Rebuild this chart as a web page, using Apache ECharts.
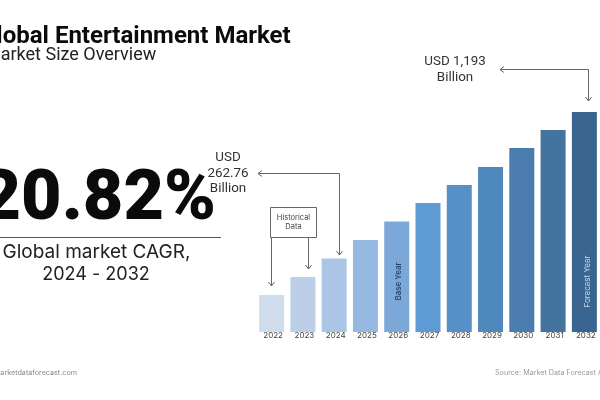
<!DOCTYPE html>
<html>
<head>
<meta charset="utf-8">
<style>html,body{margin:0;padding:0;background:#fff}#main{width:600px;height:400px}</style>
<script src="https://cdn.jsdelivr.net/npm/echarts@6/dist/echarts.min.js"></script>
</head>
<body>
<div id="main"></div>
<script>
var years = ['2022', '2023', '2024', '2025', '2026', '2027', '2028', '2029', '2030', '2031', '2032'];
// bars are drawn as a plain staircase, not to scale with the USD labels, so these are read as heights
var barHeights = [37, 55, 73.5, 92, 110.5, 129, 147, 165, 184, 202, 220];
var barColors = ['#cfdcee', '#bccfe7', '#abc5e6', '#95b9e0', '#7ba8d8', '#5e9bd5', '#5790c8', '#4f88bd', '#4a7cae', '#43739f', '#3a6590'];

var myChart = echarts.init(document.getElementById('main'), null, { renderer: 'canvas' });

function label(text, x, y, size, color, weight, family, extra) {
	var style = {
		text: text,
		fontSize: size,
		fill: color,
		fontWeight: weight || 'normal',
		fontFamily: family || 'Roboto',
		textAlign: (extra && extra.align) || 'center',
		textVerticalAlign: 'middle'
	};
	return { type: 'text', x: x, y: y, rotation: (extra && extra.rotation) || 0, z: 10, style: style };
}

function line(points) {
	return {
		type: 'polyline',
		z: 5,
		shape: { points: points },
		style: { stroke: '#666', lineWidth: 1, fill: null }
	};
}

var option = {
	animation: false,
	backgroundColor: '#fff',
	grid: { left: 256, right: 0, top: 112, bottom: 68 },
	xAxis: {
		type: 'category',
		data: years,
		axisLine: { show: false },
		axisTick: { show: false },
		axisLabel: {
			color: '#444',
			fontFamily: 'Inter',
			fontSize: 8,
			margin: 0,
			interval: 0,
			padding: [0, 0, 0, 3]
		}
	},
	yAxis: { type: 'value', min: 0, max: 220, show: false },
	series: [{
		type: 'bar',
		barWidth: 25,
		data: barHeights.map(function(v, i) {
			return { value: v, itemStyle: { color: barColors[i] } };
		})
	}],
	graphic: [
		label('Global Entertainment Market', -20, 37, 24, '#0b0b0b', 'bold', 'Roboto', { align: 'left' }),
		label('Market Size Overview', -15, 55, 18, '#222', 'normal', 'Roboto', { align: 'left' }),
		label('20.82%', 216, 201, 70, '#0b0b0b', 900, 'Roboto', { align: 'right' }),
		{ type: 'line', shape: { x1: 0, y1: 237.5, x2: 221, y2: 237.5 }, style: { stroke: '#555', lineWidth: 1 } },
		label('Global market CAGR,', 96.5, 252.5, 19, '#222', 'normal', 'Inter'),
		label('2024 - 2032', 96, 275, 18, '#222', 'normal', 'Inter'),
		label('www.marketdataforecast.com', 77, 372.5, 7.2, '#888', 'normal', 'Inter', { align: 'right' }),
		label('Source: Market Data Forecast Analysis', 495, 372.5, 7.2, '#999', 'normal', 'Inter', { align: 'left' }),

		label('USD 1,193', 455, 62, 13.4, '#333'),
		label('Billion', 455, 78, 13.4, '#333'),
		line([[588.5, 101], [588.5, 69.5], [500, 69.5]]),
		line([[504, 66.5], [500, 69.5], [504, 72.5]]),
		line([[585.5, 97], [588.5, 101], [591.5, 97]]),

		label('USD', 228, 158, 13.4, '#333'),
		label('262.76', 228, 173.5, 13.4, '#333'),
		label('Billion', 228, 189, 13.4, '#333'),
		line([[339.5, 255], [339.5, 173.5], [258, 173.5]]),
		line([[262, 170.5], [258, 173.5], [262, 176.5]]),
		line([[336.5, 251], [339.5, 255], [342.5, 251]]),

		{
			type: 'rect',
			z: 6,
			shape: { x: 270.5, y: 207.5, width: 46, height: 30 },
			style: { stroke: '#666', lineWidth: 1, fill: '#fff' }
		},
		label('Historical', 293.5, 218, 7.5, '#444', 'normal', 'Inter'),
		label('Data', 293.5, 227, 7.5, '#444', 'normal', 'Inter'),
		line([[271.5, 238], [271.5, 286]]),
		line([[268.5, 282], [271.5, 286], [274.5, 282]]),
		line([[308.5, 238], [308.5, 269]]),
		line([[305.5, 265], [308.5, 269], [311.5, 265]]),

		label('Base Year', 399, 281.5, 8, '#1f3f66', 500, 'Inter', { rotation: Math.PI / 2 }),
		label('Forecast Year', 587.5, 281.5, 8, '#cfdcea', 'normal', 'Inter', { rotation: Math.PI / 2 })
	]
};
myChart.setOption(option);
</script>
</body>
</html>
